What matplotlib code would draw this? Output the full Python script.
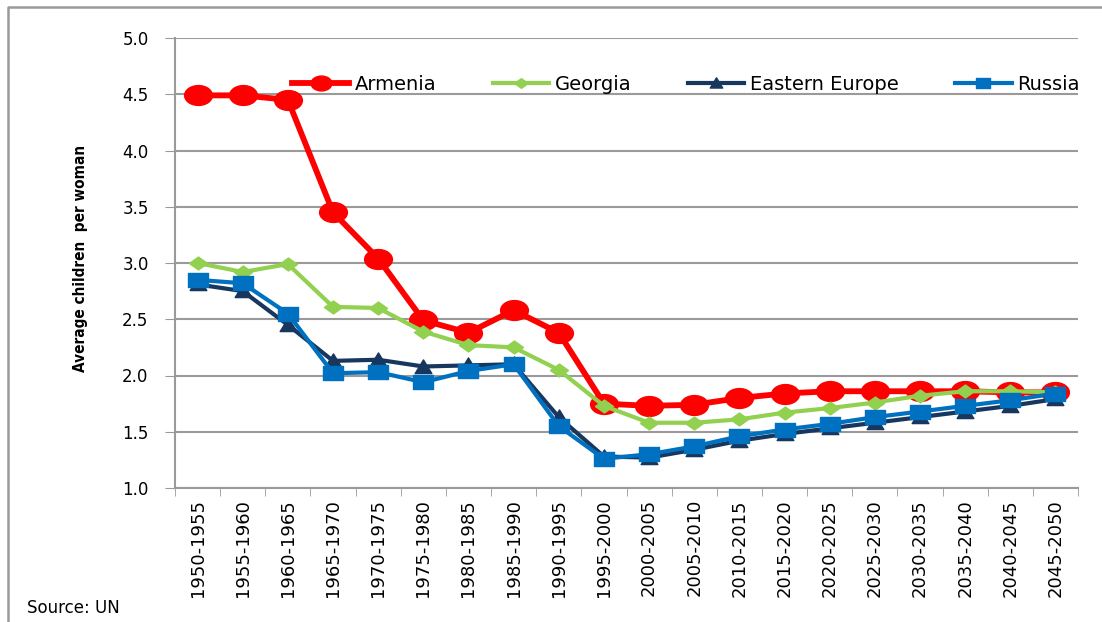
import numpy as np
import matplotlib as mpl
mpl.use('Agg')
import matplotlib.pyplot as plt
from matplotlib.path import Path
from matplotlib.transforms import Affine2D
from matplotlib.lines import Line2D

periods = ["1950-1955", "1955-1960", "1960-1965", "1965-1970", "1970-1975",
           "1975-1980", "1980-1985", "1985-1990", "1990-1995", "1995-2000",
           "2000-2005", "2005-2010", "2010-2015", "2015-2020", "2020-2025",
           "2025-2030", "2030-2035", "2035-2040", "2040-2045", "2045-2050"]
armenia = [4.49, 4.49, 4.45, 3.45, 3.04, 2.49, 2.38, 2.58, 2.38, 1.75,
           1.73, 1.74, 1.80, 1.84, 1.86, 1.86, 1.86, 1.86, 1.85, 1.85]
georgia = [3.00, 2.92, 2.99, 2.61, 2.60, 2.39, 2.27, 2.25, 2.05, 1.73,
           1.58, 1.58, 1.61, 1.67, 1.71, 1.76, 1.82, 1.86, 1.86, 1.85]
eastern_europe = [2.81, 2.75, 2.45, 2.13, 2.14, 2.08, 2.09, 2.10, 1.63, 1.28,
                  1.27, 1.34, 1.42, 1.48, 1.53, 1.58, 1.63, 1.68, 1.73, 1.79]
russia = [2.85, 2.82, 2.55, 2.02, 2.03, 1.94, 2.04, 2.10, 1.55, 1.26,
          1.30, 1.37, 1.46, 1.52, 1.57, 1.63, 1.68, 1.73, 1.78, 1.84]


def wide(path, sx=1.4):
    # markers in the original look stretched sideways
    return Affine2D().scale(sx, 1).transform_path(path)

circle_m = wide(Path.unit_circle(), 1.4)
square_m = wide(Path([(-1, -1), (1, -1), (1, 1), (-1, 1), (-1, -1)], closed=True), 1.33)
diamond_m = wide(Path([(0, -1), (1, 0), (0, 1), (-1, 0), (0, -1)], closed=True), 1.4)
tri_m = wide(Path([(-1, -0.8), (1, -0.8), (0, 1), (-1, -0.8)], closed=True), 1.1)

grey = "#9a9a9a"

fig = plt.figure(figsize=(11.02, 6.22), dpi=100)
ax = fig.add_axes([175/1102, 1-488/622, (1078-175)/1102, (488-38)/622])

x = np.arange(len(periods))
ax.plot(x, armenia, color="#ff0000", lw=4.2, marker=circle_m, ms=20,
        label="Armenia", zorder=3)
ax.plot(x, georgia, color="#92d050", lw=3.0, marker=diamond_m, ms=13,
        label="Georgia", zorder=4)
ax.plot(x, eastern_europe, color="#17375e", lw=3.0, marker=tri_m, ms=12,
        label="Eastern Europe", zorder=5)
ax.plot(x, russia, color="#0070c0", lw=3.0, marker=square_m, ms=14,
        label="Russia", zorder=6)

ax.set_xlim(-0.5, len(periods) - 0.5)
ax.set_ylim(1.0, 5.0)
ax.set_yticks(np.arange(1.0, 5.01, 0.5))
ax.set_yticklabels(["%.1f" % v for v in np.arange(1.0, 5.01, 0.5)], fontsize=12)
ax.set_xticks(x)
ax.set_xticklabels(periods, rotation=90, fontsize=13)
ax.set_xticks(np.arange(-0.5, len(periods)), minor=True)
ax.tick_params(axis='x', which='major', length=0, pad=8)
ax.tick_params(axis='x', which='minor', length=6, color=grey, direction='out')
ax.tick_params(axis='y', length=7, color=grey, direction='out', pad=12)
ax.grid(axis='y', color=grey, lw=1.5)
ax.set_axisbelow(True)
for s in ['top', 'right']:
    ax.spines[s].set_visible(False)
for s in ['left', 'bottom']:
    ax.spines[s].set_color(grey)
    ax.spines[s].set_linewidth(1.5)

leg = fig.legend(loc='center right', bbox_to_anchor=(1080/1102, 1-84/622),
                 ncol=4, frameon=False, fontsize=14, handlelength=2.9,
                 handletextpad=0.3, columnspacing=2.9, markerscale=0.75,
                 borderaxespad=0, borderpad=0)

fig.text(80/1102, 1-258/622, "Average children  per woman", rotation=90,
         ha='center', va='center', fontsize=11, fontweight='bold',
         fontstretch='condensed')
fig.text(27/1102, 1-608/622, "Source: UN", ha='left', va='center', fontsize=12)

# outer frame (left and top edges visible)
fig.add_artist(Line2D([8/1102, 8/1102, 1.0], [0, 1-7/622, 1-7/622],
                      transform=fig.transFigure, color=grey, lw=1.8))

fig.savefig("out.png", dpi=100)
